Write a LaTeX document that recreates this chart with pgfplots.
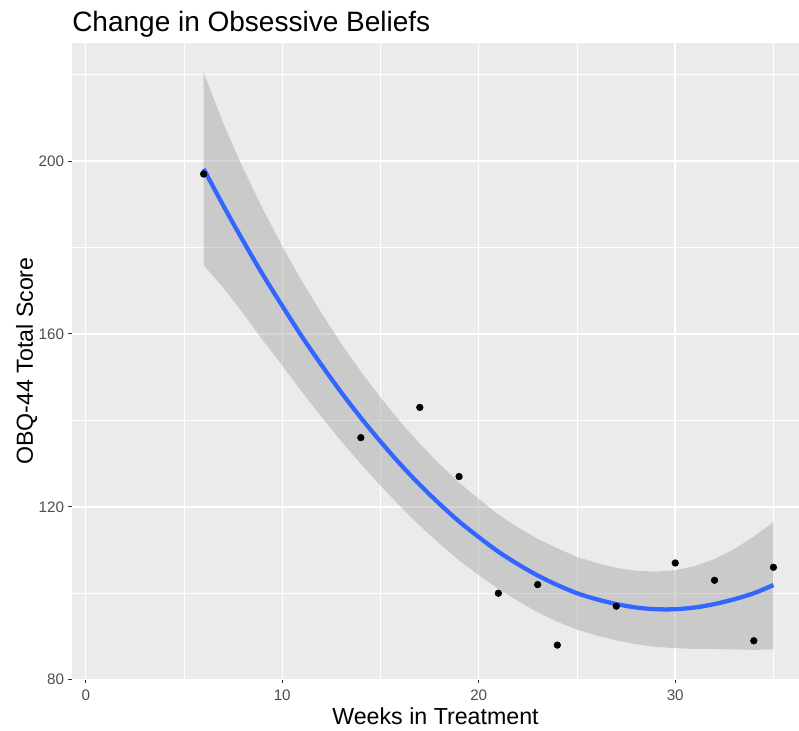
\documentclass[border=0pt]{standalone}
\usepackage{fontspec}
\setmainfont{Liberation Sans}
\usepackage{pgfplots}
\pgfplotsset{compat=1.18}
\usepgfplotslibrary{fillbetween}
\usepackage{pgfplotstable}
\definecolor{panelgray}{HTML}{EBEBEB}
\definecolor{bandgray}{HTML}{999999}
\definecolor{fitblue}{HTML}{3366FF}
\definecolor{ticklab}{HTML}{4D4D4D}
\definecolor{tickcol}{HTML}{333333}

\pgfplotstableread{
x y
6 197
14 136
17 143
19 127
21 100
23 102
24 88
27 97
30 107
32 103
34 89
35 106
}\pts

\pgfplotstableread{
x fit upper lower
6 198.2 220.5 175.9
7 189.7 208.7 170.7
8 181.6 198.4 164.8
9 173.8 189.0 158.6
10 166.5 180.3 152.7
11 159.4 172.2 146.6
12 152.8 164.8 140.8
13 146.5 157.8 135.2
14 140.6 151.3 129.9
15 135.1 145.3 124.9
16 129.9 139.7 120.1
17 125.1 134.6 115.6
18 120.7 129.9 111.5
19 116.6 125.6 107.6
20 113.0 121.8 104.2
21 109.6 118.2 101.0
22 106.7 115.2 98.2
23 104.1 112.6 95.6
24 101.9 110.4 93.4
25 100.0 108.4 91.6
26 98.6 107.0 90.2
27 97.5 105.9 89.1
28 96.7 105.2 88.2
29 96.3 105.0 87.6
30 96.3 105.3 87.3
31 96.7 106.3 87.1
32 97.5 107.9 87.1
33 98.6 110.2 87.0
34 100.0 113.1 86.9
35 101.9 116.5 87.0
}\fit

\begin{document}
\begin{tikzpicture}
\begin{axis}[
  name=ax,
  scale only axis,
  width=545.25pt, height=477.75pt,
  xmin=-0.7, xmax=36.3,
  ymin=80, ymax=227.4,
  xtick={0,10,20,30},
  ytick={80,120,160,200},
  minor xtick={5,15,25,35},
  minor ytick={100,140,180,220},
  grid=both,
  major grid style={white, line width=1.1pt},
  minor grid style={white, line width=0.55pt},
  minor tick length=0pt,
  major tick length=2.75pt,
  tick align=outside,
  xtick pos=bottom, ytick pos=left,
  major tick style={tickcol, line width=0.8pt},
  axis line style={draw=none},
  axis background/.style={fill=panelgray},
  /pgf/number format/assume math mode=true,
  tick label style={font=\fontsize{11.4}{13}\selectfont, text=ticklab, inner sep=0pt},
  yticklabel style={anchor=east, xshift=-3pt},
  xticklabel style={anchor=north, yshift=-4.75pt},
  xlabel={Weeks in Treatment},
  ylabel={OBQ-44 Total Score},
  xlabel style={at={(axis description cs:0.5,-0.07065)}, anchor=base, inner sep=0pt, font=\fontsize{17.4}{20}\selectfont},
  ylabel style={at={(axis description cs:-0.05365,0.5)}, anchor=base, inner sep=0pt, font=\fontsize{17.4}{20}\selectfont},
  clip=false,
]
\addplot[only marks, mark=*, mark size=2.5pt, mark options={fill=black, draw=black}] table[x=x, y=y] {\pts};
\addplot[name path=U, draw=none, forget plot] table[x=x, y=upper] {\fit};
\addplot[name path=L, draw=none, forget plot] table[x=x, y=lower] {\fit};
\addplot[fill=bandgray, fill opacity=0.4, draw=none] fill between[of=U and L];
\addplot[fitblue, line width=3.2pt, smooth] table[x=x, y=fit] {\fit};
\end{axis}
\node[anchor=base west, inner sep=0pt, font=\fontsize{21}{25}\selectfont] at ([yshift=8pt]ax.north west) {Change in Obsessive Beliefs};
\pgfresetboundingbox
\path ([xshift=-54pt,yshift=-38.25pt]ax.south west) rectangle ([yshift=32pt]ax.north east);
\end{tikzpicture}
\end{document}
